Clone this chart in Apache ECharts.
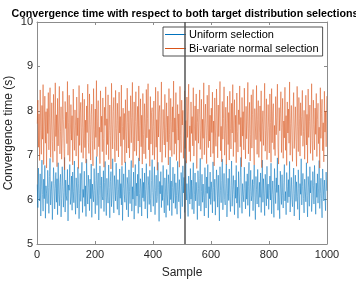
<!DOCTYPE html>
<html><head><meta charset="utf-8">
<script src="https://cdn.jsdelivr.net/npm/echarts@6/dist/echarts.min.js"></script>
<style>html,body{margin:0;padding:0;background:#fff}#c{width:356px;height:282px}</style>
</head><body><div id="c"></div>
<script>
const titleText = 'Convergence time with respect to both target distribution selections';
const seriesNames = ['Uniform selection', 'Bi-variate normal selection'];
const xTicks = [0, 200, 400, 600, 800, 1000];
const yTicks = [5, 6, 7, 8, 9, 10];
const markerSample = 510;
const uniform = [
6.34,5.82,6.71,6.05,5.97,6.58,5.63,6.22,6.89,6.11,5.74,6.46,6.02,6.77,5.58,6.31,6.14,5.91,6.66,6.27,
5.69,6.52,6.93,5.88,6.19,6.41,5.55,6.08,6.72,6.36,5.79,6.25,6.61,5.94,6.47,5.66,6.83,6.12,5.86,6.39,
6.57,5.61,6.03,6.74,6.29,5.83,6.16,6.95,5.72,6.44,6.09,5.98,6.68,5.52,6.33,6.21,6.79,5.89,6.06,6.53,
5.76,6.62,6.18,5.93,6.87,6.01,5.67,6.49,6.26,5.81,6.73,6.37,5.57,6.13,6.59,5.96,6.42,6.84,5.71,6.23,
6.05,6.64,5.85,6.31,5.62,6.91,6.17,5.9,6.55,6.28,5.75,6.46,6.02,6.8,5.6,6.35,6.11,5.95,6.7,6.2,
5.68,6.43,6.97,5.87,6.24,6.6,5.54,6.1,6.76,6.32,5.8,6.51,6.07,5.99,6.65,5.73,6.38,6.86,6.04,5.64,
6.48,6.15,5.92,6.78,6.27,5.59,6.4,6.63,5.84,6.19,6.92,6.0,5.7,6.54,6.3,5.97,6.82,6.09,5.78,6.45,
6.22,5.65,6.69,6.03,6.36,5.88,6.75,5.53,6.25,6.58,6.12,5.94,6.85,6.06,5.77,6.5,6.33,5.61,6.67,6.18,
5.91,6.44,6.88,5.74,6.29,6.01,6.62,5.56,6.21,6.79,5.86,6.37,6.08,6.57,5.69,6.94,6.14,5.83,6.47,6.26,
5.63,6.71,6.04,6.39,5.96,6.6,5.79,6.23,6.81,6.1,5.58,6.52,6.31,5.89,6.66,6.02,5.72,6.43,6.9,6.16,
5.85,6.35,6.74,5.66,6.2,6.55,5.93,6.07,6.84,6.28,5.51,6.41,6.13,6.63,5.82,6.32,5.98,6.77,6.05,5.7,
6.49,6.24,5.6,6.68,6.11,5.87,6.56,6.34,5.75,6.96,6.0,6.42,5.64,6.27,6.73,5.92,6.17,6.58,5.8,6.38,
6.09,5.67,6.86,6.22,5.95,6.45,6.03,5.57,6.61,6.3,5.84,6.76,6.15,6.5,5.71,6.26,6.88,5.99,6.36,6.06,
5.62,6.53,6.19,5.9,6.7,6.01,6.44,5.78,6.31,6.83,5.68,6.12,6.6,5.97,6.39,6.08,5.55,6.65,6.25,5.86,
6.47,6.93,5.74,6.18,6.57,5.94,6.35,6.04,5.63,6.72,6.21,5.81,6.51,6.14,6.79,5.59,6.29,6.02,6.62,5.89,
6.4,6.16,5.7,6.85,6.27,5.96,6.46,5.65,6.1,6.67,6.33,5.83,6.55,6.05,5.52,6.74,6.2,5.93,6.43,6.91,
5.77,6.24,6.59,6.0,5.88,6.37,6.8,5.61,6.13,6.48,5.98,6.69,6.07,5.73,6.32,6.87,5.85,6.22,6.54,6.11,
5.66,6.44,6.03,6.77,5.92,6.28,5.58,6.63,6.17,5.82,6.5,6.95,6.06,5.69,6.36,6.12,5.95,6.73,6.25,5.79,
6.41,6.01,6.58,5.87,6.3,6.84,5.62,6.19,6.66,5.97,6.09,6.45,5.75,6.34,6.78,6.04,5.55,6.52,6.23,5.9,
6.68,6.15,5.83,6.39,6.05,6.6,5.71,6.26,6.89,5.94,6.47,6.13,5.64,6.57,6.31,5.86,6.75,6.02,6.35,5.78,
6.2,6.53,5.99,6.82,5.68,6.11,6.42,6.08,5.6,6.7,6.27,5.91,6.49,6.16,6.94,5.76,6.33,6.04,5.57,6.64,
6.24,5.89,6.56,6.1,5.81,6.38,6.79,5.97,6.18,5.66,6.61,6.29,5.93,6.45,6.06,6.86,5.72,6.21,6.5,6.0,
5.84,6.34,6.71,5.63,6.14,6.55,5.96,6.4,6.07,5.78,6.67,6.25,5.54,6.36,6.12,6.92,5.88,6.3,6.59,6.03,
5.7,6.46,6.19,5.95,6.83,6.09,5.61,6.52,6.28,5.85,6.74,6.15,6.43,5.73,6.01,6.63,6.32,5.9,6.77,6.22,
5.67,6.37,6.05,6.58,5.92,6.26,6.88,5.8,6.14,6.48,6.02,5.59,6.69,6.33,5.97,6.44,6.1,5.75,6.62,6.2];
const bivariate = [
7.71,8.24,7.18,7.93,6.88,8.47,7.55,7.02,8.12,7.36,8.59,6.79,7.64,8.33,7.27,7.98,6.71,8.05,7.49,8.41,
7.12,7.86,8.52,6.95,7.59,8.18,7.31,6.84,8.37,7.68,7.09,8.63,7.42,7.91,6.74,8.28,7.21,7.77,8.55,7.03,
7.53,8.09,6.91,7.38,8.44,7.81,7.15,6.67,8.21,7.6,7.97,7.26,8.66,7.0,7.73,8.35,6.86,7.46,8.14,7.34,
7.89,6.78,8.49,7.57,7.11,8.02,7.66,6.98,8.31,7.44,7.84,6.7,8.57,7.22,7.95,8.19,7.06,7.62,8.4,6.93,
7.48,8.26,7.17,7.79,6.82,8.11,7.51,8.6,7.29,7.04,8.38,7.69,6.89,7.92,8.15,7.33,6.76,8.5,7.58,7.13,
8.04,7.4,8.68,6.97,7.75,8.23,7.19,7.63,6.81,8.45,7.52,7.88,7.08,8.29,7.37,6.73,8.08,7.67,8.54,7.01,
7.82,7.24,8.36,6.9,7.56,8.13,7.45,6.69,8.62,7.7,7.14,7.99,8.3,7.3,6.85,8.46,7.6,7.1,8.17,7.78,
6.96,8.42,7.5,7.87,7.2,8.58,6.77,7.65,8.06,7.35,7.94,6.83,8.25,7.54,7.05,8.51,7.74,7.16,8.0,6.94,
7.61,8.34,7.28,7.85,8.64,6.72,7.43,8.2,7.09,7.76,8.43,6.99,7.57,8.1,7.32,8.56,6.87,7.67,8.27,7.19,
7.9,6.8,8.39,7.47,7.03,8.16,7.72,6.92,8.48,7.39,7.83,8.61,7.12,7.58,6.75,8.32,7.25,7.96,8.07,7.0,
7.64,8.22,6.9,7.5,8.53,7.18,7.8,6.66,8.44,7.41,7.97,8.12,7.07,7.7,8.65,6.84,7.36,8.03,7.55,7.23,
8.37,6.95,7.62,8.18,7.3,7.88,6.78,8.5,7.46,7.11,8.28,7.75,6.97,8.09,7.52,8.67,7.02,7.84,7.26,8.41,
6.88,7.6,8.14,7.34,7.93,6.73,8.55,7.44,7.06,8.24,7.68,8.01,6.93,7.53,8.45,7.15,7.78,6.82,8.31,7.4,
7.99,8.6,7.08,7.66,6.86,8.2,7.49,7.87,7.21,8.52,6.98,7.59,8.11,7.33,8.38,6.7,7.73,8.04,7.27,7.92,
8.47,7.13,7.55,8.26,6.91,7.81,7.38,8.63,7.01,7.71,8.15,7.45,6.81,8.35,7.63,7.17,8.58,7.32,7.9,6.96,
8.06,7.51,8.42,7.04,7.77,6.76,8.29,7.57,7.2,8.49,7.86,6.94,8.13,7.42,7.95,8.66,7.1,7.65,6.85,8.21,
7.36,7.83,8.54,7.0,7.48,8.08,6.79,7.72,8.33,7.24,7.96,6.89,8.44,7.61,7.14,8.17,7.5,8.59,6.97,7.79,
8.25,7.29,7.9,6.83,8.4,7.54,7.07,8.02,7.69,8.56,7.19,7.85,6.74,8.3,7.43,7.98,7.12,8.51,7.58,6.92,
8.1,7.37,7.75,8.64,7.03,7.6,8.19,6.87,7.47,8.36,7.16,7.91,8.48,7.25,6.78,8.05,7.66,7.35,8.57,7.02,
7.8,8.23,6.95,7.52,8.11,7.31,8.45,6.72,7.7,8.0,7.22,7.88,8.62,7.09,7.56,8.27,6.9,7.41,8.14,7.63,
7.05,8.38,7.74,6.84,8.5,7.28,7.95,8.16,7.13,7.67,6.99,8.32,7.46,7.84,8.6,7.18,6.8,8.07,7.55,7.93,
8.43,7.06,7.62,8.28,6.93,7.77,7.39,8.53,7.11,7.89,6.77,8.2,7.5,8.04,7.27,8.65,7.0,7.71,8.12,7.34,
6.86,7.97,8.41,7.15,7.59,8.09,7.3,6.75,8.55,7.64,7.08,8.3,7.82,6.98,8.18,7.44,7.87,8.46,7.2,7.53,
8.01,6.91,7.68,8.35,7.23,7.92,6.82,8.49,7.4,7.76,8.13,7.04,7.57,8.61,7.33,6.88,8.24,7.69,7.12,8.06,
7.47,8.39,6.97,7.81,8.17,7.26,7.63,6.71,8.52,7.38,7.94,8.26,7.1,7.73,6.85,8.44,7.52,7.99,7.19,8.33];
const samples = uniform.map((_, i) => 1 + i * 2);

const FONT = '"Liberation Sans", Arial, sans-serif';
const AX = '#262626';
const chart = echarts.init(document.getElementById('c'), null, {renderer: 'canvas'});
function xAx(pos, show) {
  return {type: 'value', position: pos, min: xTicks[0], max: xTicks[xTicks.length-1], interval: 200,
    name: show ? 'Sample' : '', nameLocation: 'middle', nameGap: 23, nameMoveOverlap: false,
    nameTextStyle: {fontFamily: FONT, fontSize: 12, color: AX},
    axisLine: {show: true, onZero: false, lineStyle: {color: '#8c8c8c', width: 1}},
    axisTick: {show: true, inside: true, length: 3, lineStyle: {color: '#8c8c8c'}},
    axisLabel: {show: show, fontFamily: FONT, fontSize: 11, color: AX, margin: 5, formatter: v => String(v)},
    splitLine: {show: false}};
}
function yAx(pos, show) {
  return {type: 'value', position: pos, min: yTicks[0], max: yTicks[yTicks.length-1], interval: 1,
    name: show ? 'Convergence time (s)' : '', nameLocation: 'middle', nameGap: 22, nameMoveOverlap: false,
    nameTextStyle: {fontFamily: FONT, fontSize: 12, color: AX},
    axisLine: {show: true, onZero: false, lineStyle: {color: '#8c8c8c', width: 1}},
    axisTick: {show: true, inside: true, length: 3, lineStyle: {color: '#8c8c8c'}},
    axisLabel: {show: show, fontFamily: FONT, fontSize: 11, color: AX, margin: 4, formatter: v => String(v)},
    splitLine: {show: false}};
}
chart.setOption({
  animation: false,
  backgroundColor: '#fff',
  title: {text: titleText, left: 180, textAlign: 'center', top: 4,
    textStyle: {fontFamily: FONT, fontSize: 10.7, fontWeight: 'bold', color: '#000'}},
  grid: {left: 37, right: 29, top: 22, bottom: 38, containLabel: false, outerBoundsMode: 'none'},
  legend: {orient: 'vertical', left: 163, top: 27, icon: 'path://M0,0H20V1H0Z', itemWidth: 21, itemHeight: 1.2,
    itemGap: 3, padding: [2, 4, 2, 2], backgroundColor: '#fff', borderColor: '#262626', borderWidth: 0.8,
    textStyle: {fontFamily: FONT, fontSize: 11, color: '#000', padding: [0, 0, 0, -2]}, data: seriesNames},
  xAxis: [xAx('bottom', true), xAx('top', false)],
  yAxis: [yAx('left', true), yAx('right', false)],
  series: [
    {name: seriesNames[0], type: 'line', showSymbol: false, color: '#0072BD',
      lineStyle: {width: 0.5, color: '#0072BD'},
      data: samples.map((s, i) => [s, uniform[i]]),
      markLine: {silent: true, symbol: 'none', label: {show: false},
        lineStyle: {color: '#555', width: 1.5, type: 'solid'}, data: [{xAxis: markerSample}]}},
    {name: seriesNames[1], type: 'line', showSymbol: false, color: '#D95319',
      lineStyle: {width: 0.5, color: '#D95319'},
      data: samples.map((s, i) => [s, bivariate[i]])}
  ]
});
</script></body></html>
